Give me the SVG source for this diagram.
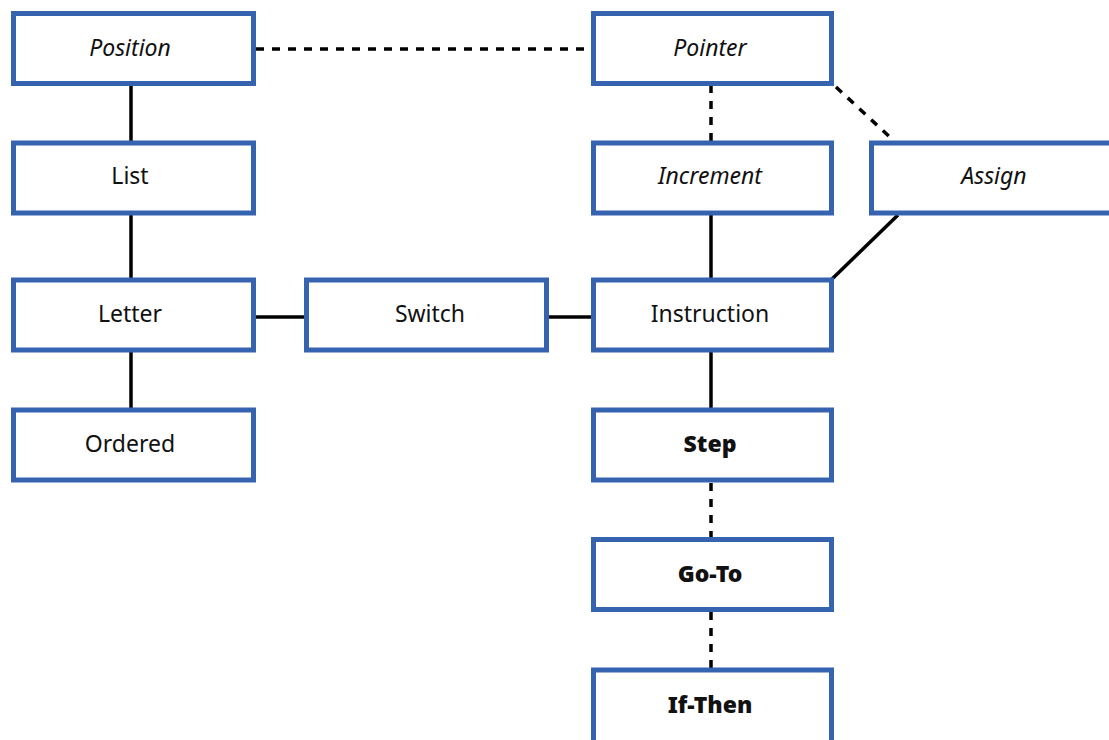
<svg xmlns="http://www.w3.org/2000/svg" width="1109" height="740" viewBox="0 0 1109 740">
<style>
.box{fill:#fff;stroke:#3663b0;stroke-width:5}
.t{font-family:"Noto Sans","Open Sans",sans-serif;font-size:23px;fill:#111;text-anchor:middle;dominant-baseline:central}
.i{font-style:italic}
.b{font-weight:900}
.s{stroke:#000;stroke-width:3.5;fill:none}
.d{stroke:#000;stroke-width:3.5;fill:none;stroke-dasharray:8 8}
</style>
<rect width="1109" height="740" fill="#fff"/>
<g id="connectors">
<line class="d" x1="256" y1="49" x2="591" y2="49"/>
<line class="s" x1="131" y1="85" x2="131" y2="141"/>
<line class="s" x1="131" y1="215" x2="131" y2="278"/>
<line class="s" x1="131" y1="352" x2="131" y2="408"/>
<line class="s" x1="256" y1="317" x2="304" y2="317"/>
<line class="s" x1="549" y1="317" x2="591" y2="317"/>
<line class="d" x1="711" y1="85" x2="711" y2="141"/>
<line class="d" x1="836" y1="87" x2="893" y2="140"/>
<line class="s" x1="711" y1="215" x2="711" y2="278"/>
<line class="s" x1="898" y1="215" x2="832" y2="279"/>
<line class="s" x1="711" y1="352" x2="711" y2="408"/>
<line class="d" x1="711" y1="483" x2="711" y2="537"/>
<line class="d" x1="711" y1="612" x2="711" y2="668"/>
</g>
<g id="position"><rect class="box" x="13.5" y="13.5" width="240" height="70"/><text class="t i" x="130" y="46.5">Position</text></g>
<g id="list"><rect class="box" x="13.5" y="143" width="240" height="70"/><text class="t" x="130" y="175">List</text></g>
<g id="letter"><rect class="box" x="13.5" y="280" width="240" height="70"/><text class="t" x="130" y="313">Letter</text></g>
<g id="ordered"><rect class="box" x="13.5" y="410" width="240" height="70"/><text class="t" x="130" y="443">Ordered</text></g>
<g id="switch"><rect class="box" x="306.5" y="280" width="240" height="70"/><text class="t" x="430" y="313">Switch</text></g>
<g id="pointer"><rect class="box" x="593.5" y="13.5" width="238" height="70"/><text class="t i" x="710" y="46.5">Pointer</text></g>
<g id="increment"><rect class="box" x="593.5" y="143" width="238" height="70"/><text class="t i" x="710" y="175">Increment</text></g>
<g id="assign"><rect class="box" x="871.5" y="143" width="250" height="70"/><text class="t i" x="994" y="175">Assign</text></g>
<g id="instruction"><rect class="box" x="593.5" y="280" width="238" height="70"/><text class="t" x="710" y="313">Instruction</text></g>
<g id="step"><rect class="box" x="593.5" y="410" width="238" height="70"/><text class="t b" x="710" y="443">Step</text></g>
<g id="goto"><rect class="box" x="593.5" y="539.5" width="238" height="70"/><text class="t b" x="710" y="573">Go-To</text></g>
<g id="ifthen"><rect class="box" x="593.5" y="670" width="238" height="80"/><text class="t b" x="710" y="704">If-Then</text></g>
</svg>
